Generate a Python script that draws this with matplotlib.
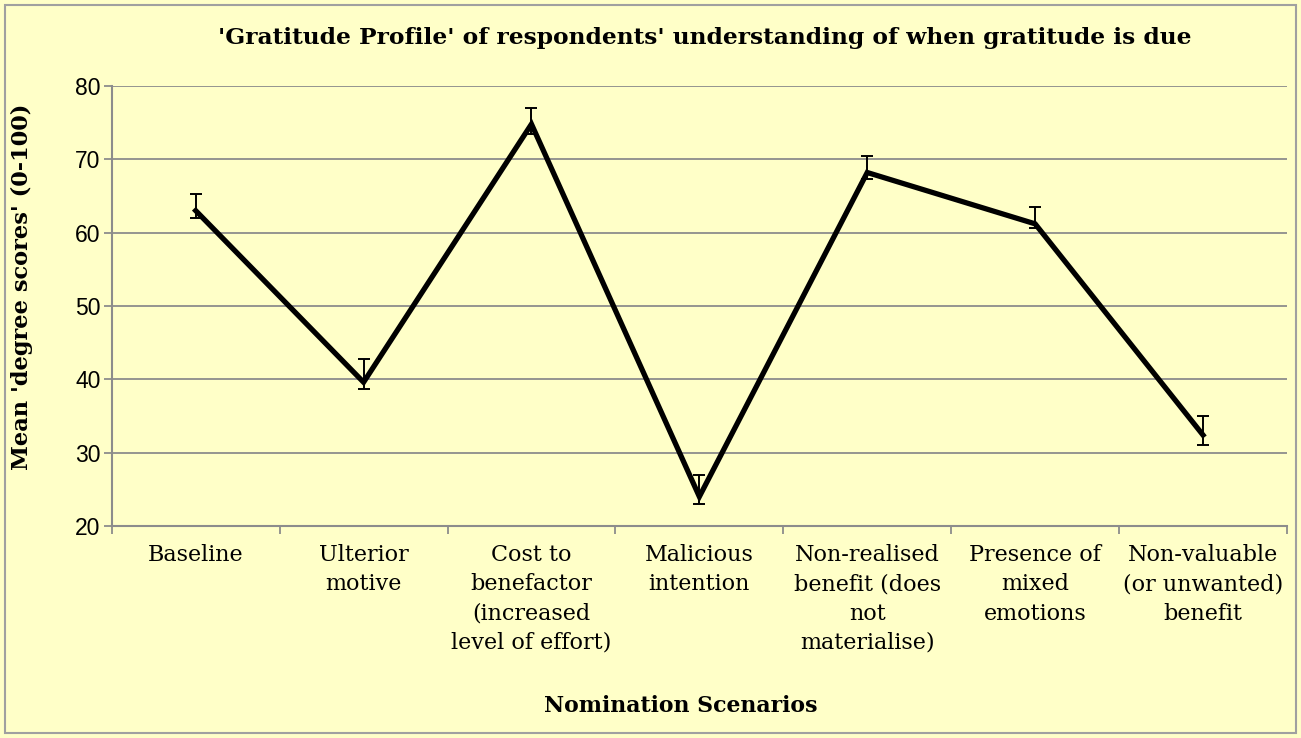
import matplotlib.pyplot as plt
from matplotlib.patches import Rectangle

BG = "#FFFFC8"
GRID = "#8C8C8C"

categories = [
    "Baseline",
    "Ulterior\nmotive",
    "Cost to\nbenefactor\n(increased\nlevel of effort)",
    "Malicious\nintention",
    "Non-realised\nbenefit (does\nnot\nmaterialise)",
    "Presence of\nmixed\nemotions",
    "Non-valuable\n(or unwanted)\nbenefit",
]
means = [63.0, 39.6, 74.8, 24.0, 68.2, 61.2, 32.4]
err_upper = [65.3, 42.8, 77.0, 27.0, 70.5, 63.5, 35.0]
err_lower = [62.0, 38.7, 73.5, 23.0, 67.3, 60.7, 31.1]
y_ticks = [20, 30, 40, 50, 60, 70, 80]

fig = plt.figure(figsize=(13.01, 7.38), dpi=100, facecolor=BG)
ax = fig.add_axes([0.0859, 0.2873, 0.9033, 0.5962], facecolor=BG)

x = list(range(len(categories)))
yerr = [
    [m - lo for m, lo in zip(means, err_lower)],
    [hi - m for m, hi in zip(means, err_upper)],
]
ax.plot(x, means, color="black", lw=3.8, solid_joinstyle="miter", zorder=3)
ax.errorbar(x, means, yerr=yerr, fmt="none", ecolor="black", elinewidth=1.4,
            capsize=4.5, capthick=1.4, zorder=4)

ax.set_xlim(-0.5, len(categories) - 0.5)
ax.set_ylim(20, 80)
ax.set_yticks(y_ticks)
ax.yaxis.grid(True, color=GRID, lw=1.3)
ax.set_axisbelow(True)

ax.set_xticks(x)
ax.set_xticklabels(categories, family="DejaVu Serif", fontsize=16,
                   linespacing=1.43, va="top")
ax.set_xticks([i - 0.5 for i in range(len(categories) + 1)], minor=True)
ax.tick_params(axis="x", which="major", length=0, pad=13)
ax.tick_params(axis="x", which="minor", length=6, width=1.3, color=GRID)
ax.tick_params(axis="y", length=6, width=1.3, color=GRID, pad=2)
for lab in ax.get_yticklabels():
    lab.set_family("Liberation Sans")
    lab.set_fontsize(16.5)

for side in ["top", "right"]:
    ax.spines[side].set_visible(False)
for side in ["left", "bottom"]:
    ax.spines[side].set_color(GRID)
    ax.spines[side].set_linewidth(1.5)

fig.text(0.017, 0.611, "Mean 'degree scores' (0-100)", family="DejaVu Serif",
         fontweight="bold", fontsize=16.2, rotation=90,
         ha="center", va="center")
fig.text(0.523, 0.028, "Nomination Scenarios", family="DejaVu Serif",
         fontweight="bold", fontsize=15.8, ha="center", va="bottom")
fig.text(0.542, 0.948,
         "'Gratitude Profile' of respondents' understanding of when gratitude is due",
         family="DejaVu Serif", fontweight="bold", fontsize=16.8,
         ha="center", va="center")

fig.patches.append(Rectangle((5 / 1301, 5 / 738), 1291 / 1301, 728 / 738,
                             transform=fig.transFigure, fill=False,
                             edgecolor="#A0A0A0", lw=1.5))

fig.savefig("out.png", dpi=100, facecolor=BG)
